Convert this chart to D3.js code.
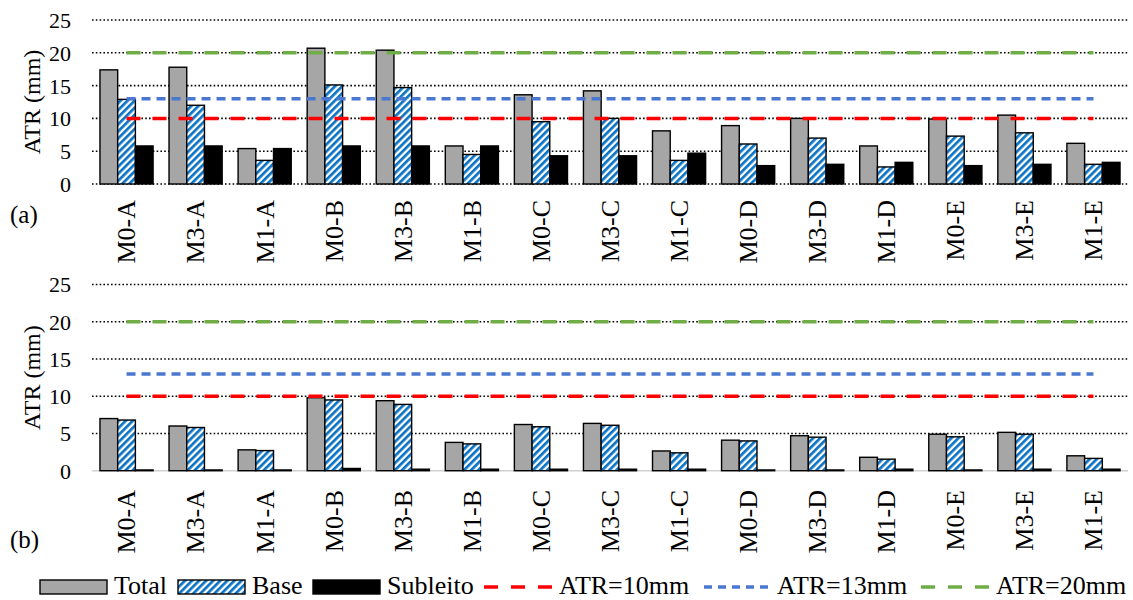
<!DOCTYPE html>
<html>
<head>
<meta charset="utf-8">
<script src="https://cdn.jsdelivr.net/npm/d3@7/dist/d3.min.js"></script>
<style>
  html, body { margin: 0; padding: 0; background: #fff; }
  svg { display: block; }
  svg text { font-family: "Liberation Serif", "DejaVu Serif", serif; }
</style>
</head>
<body>
<svg id="chart" width="1133" height="600"></svg>
<script>
// Categories (mixture - section)
const categories = ["M0-A","M3-A","M1-A","M0-B","M3-B","M1-B","M0-C","M3-C","M1-C","M0-D","M3-D","M1-D","M0-E","M3-E","M1-E"];

// Panel (a): rut depth per layer, mm
const totalA    = [17.4, 17.8, 5.4, 20.7, 20.4, 5.8, 13.6, 14.2, 8.1, 8.9, 10.0, 5.8, 9.9, 10.5, 6.2];
const baseA     = [12.9, 12.0, 3.6, 15.1, 14.7, 4.5, 9.5, 10.0, 3.6, 6.1, 7.0, 2.6, 7.3, 7.8, 3.0];
const subleitoA = [5.8, 5.8, 5.4, 5.8, 5.8, 5.8, 4.3, 4.3, 4.7, 2.8, 3.0, 3.3, 2.8, 3.0, 3.3];

// Panel (b): rut depth per layer, mm
const totalB    = [7.0, 6.0, 2.8, 9.8, 9.4, 3.8, 6.2, 6.35, 2.65, 4.1, 4.7, 1.8, 4.9, 5.15, 2.0];
const baseB     = [6.8, 5.8, 2.7, 9.5, 8.9, 3.6, 5.9, 6.1, 2.4, 4.0, 4.5, 1.55, 4.55, 4.9, 1.65];
const subleitoB = [0.1, 0.1, 0.1, 0.3, 0.2, 0.2, 0.2, 0.2, 0.2, 0.1, 0.1, 0.2, 0.1, 0.2, 0.2];

// Limit criteria, mm
const limits = [10, 13, 20];
const limitLabels = ["ATR=10mm", "ATR=13mm", "ATR=20mm"];
const seriesNames = ["Total", "Base", "Subleito"];
const yTicks = [0, 5, 10, 15, 20, 25];
const panelLabels = ["(a)", "(b)"];
const yTitle = "ATR (mm)";

const SERIF = "Liberation Serif";

const svg = d3.select("#chart").attr("font-family", SERIF);
svg.append("rect").attr("width", 1133).attr("height", 600).attr("fill", "#fff");

// Hatch fill for the base layer
const defs = svg.append("defs");
const pat = defs.append("pattern")
  .attr("id", "hatch")
  .attr("patternUnits", "userSpaceOnUse")
  .attr("width", 5).attr("height", 5)
  .attr("patternTransform", "rotate(45)");
pat.append("rect").attr("width", 5).attr("height", 5).attr("fill", "#ffffff");
pat.append("rect").attr("width", 2.7).attr("height", 5).attr("fill", "#0a72c4");

const barFills = ["#a6a6a6", "url(#hatch)", "#000000"];
const limitColors = ["#ff0000", "#4a78d0", "#70ad47"];
const limitDash = ["14,12", "9,6", "14,12"];

const x0 = d3.scaleBand().domain(categories).range([92, 1128]).padding(0);
const x1 = d3.scaleBand().domain(seriesNames).range([0, x0.bandwidth()])
  .paddingInner(0).paddingOuter(0.45);

function drawPanel(cfg) {
  const y = d3.scaleLinear().domain([0, 25]).range([cfg.bottom, cfg.top]);
  const g = svg.append("g").attr("font-family", SERIF);

  // dotted gridlines
  const gridVals = cfg.solidBase ? yTicks.slice(1) : yTicks;
  g.append("g").selectAll("line").data(gridVals).join("line")
    .attr("x1", 92).attr("x2", 1128)
    .attr("y1", d => y(d)).attr("y2", d => y(d))
    .attr("stroke", "#000").attr("stroke-width", 1.6)
    .attr("stroke-dasharray", "1.6,2.2");
  if (cfg.solidBase) {
    g.append("line").attr("x1", 92).attr("x2", 1128)
      .attr("y1", y(0)).attr("y2", y(0))
      .attr("stroke", "#d0d0d0").attr("stroke-width", 1.5);
  }

  // y axis tick labels
  const yAxis = d3.axisLeft(y).tickValues(yTicks).tickSize(0).tickPadding(0);
  const ya = g.append("g").attr("transform", "translate(71,0)").call(yAxis)
    .attr("font-family", SERIF).attr("font-size", 22);
  ya.select(".domain").remove();
  ya.selectAll("text")
    .attr("font-family", SERIF).attr("font-size", 22).attr("fill", "#000")
    .attr("dy", "0.34em");

  // y title
  g.append("text")
    .attr("transform", `translate(40,${(cfg.top + cfg.bottom) / 2}) rotate(-90)`)
    .attr("text-anchor", "middle")
    .attr("font-family", SERIF)
    .attr("font-size", 24).attr("fill", "#000")
    .text(yTitle);

  // bars
  const series = [cfg.total, cfg.base, cfg.sub];
  const groups = g.append("g").selectAll("g").data(categories).join("g")
    .attr("transform", d => `translate(${x0(d)},0)`);
  groups.selectAll("rect")
    .data((c, i) => series.map((s, k) => ({ k, name: seriesNames[k], v: s[i] })))
    .join("rect")
    .attr("x", d => x1(d.name))
    .attr("width", x1.bandwidth())
    .attr("y", d => y(d.v))
    .attr("height", d => y(0) - y(d.v))
    .attr("fill", d => barFills[d.k])
    .attr("stroke", "#000").attr("stroke-width", 1.4);

  // limit lines, category centre to category centre
  const line = d3.line().x(d => x0(d.c) + x0.bandwidth() / 2).y(d => y(d.v));
  limits.forEach((lv, i) => {
    g.append("path")
      .datum(categories.map(c => ({ c, v: lv })))
      .attr("d", line)
      .attr("fill", "none")
      .attr("stroke", limitColors[i])
      .attr("stroke-width", 3.5)
      .attr("stroke-dasharray", limitDash[i]);
  });

  // category labels
  g.append("g").selectAll("text").data(categories).join("text")
    .attr("transform", d => `translate(${x0(d) + x0.bandwidth() / 2},${cfg.labelTop}) rotate(-90)`)
    .attr("text-anchor", "end")
    .attr("dy", "0.34em")
    .attr("font-family", SERIF)
    .attr("font-size", 26).attr("fill", "#000")
    .text(d => d);

  // panel tag
  g.append("text")
    .attr("x", 10).attr("y", cfg.tagY)
    .attr("font-family", SERIF)
    .attr("font-size", 25).attr("fill", "#000")
    .text(cfg.tag);
}

drawPanel({ top: 20, bottom: 184, labelTop: 200, tagY: 223, tag: panelLabels[0],
  total: totalA, base: baseA, sub: subleitoA, solidBase: false });
drawPanel({ top: 284.5, bottom: 470.7, labelTop: 490, tagY: 548, tag: panelLabels[1],
  total: totalB, base: baseB, sub: subleitoB, solidBase: true });

// legend: one slot per entry (swatch start, label start)
const legend = svg.append("g").attr("font-family", SERIF).attr("font-size", 26);
const ly = 587;
const slotSwatch = [40, 178, 313, 483, 703, 920];
const slotText = [114, 252, 387, 559, 777, 996];
const items = seriesNames.map((n, k) => ({ type: "box", label: n, k }))
  .concat(limitLabels.map((n, k) => ({ type: "line", label: n, k })));
items.forEach((it, i) => {
  const sx = slotSwatch[i];
  if (it.type === "box") {
    legend.append("rect")
      .attr("x", sx).attr("y", ly - 7).attr("width", 67).attr("height", 14)
      .attr("fill", barFills[it.k]).attr("stroke", "#000").attr("stroke-width", 1.4);
  } else {
    legend.append("line")
      .attr("x1", sx + 1).attr("x2", sx + 69).attr("y1", ly).attr("y2", ly)
      .attr("stroke", limitColors[it.k]).attr("stroke-width", 3.5)
      .attr("stroke-dasharray", it.k === 1 ? "8,6" : "14,13");
  }
  legend.append("text").attr("x", slotText[i]).attr("y", ly + 7)
    .attr("font-family", SERIF).attr("fill", "#000").text(it.label);
});
</script>
</body>
</html>
